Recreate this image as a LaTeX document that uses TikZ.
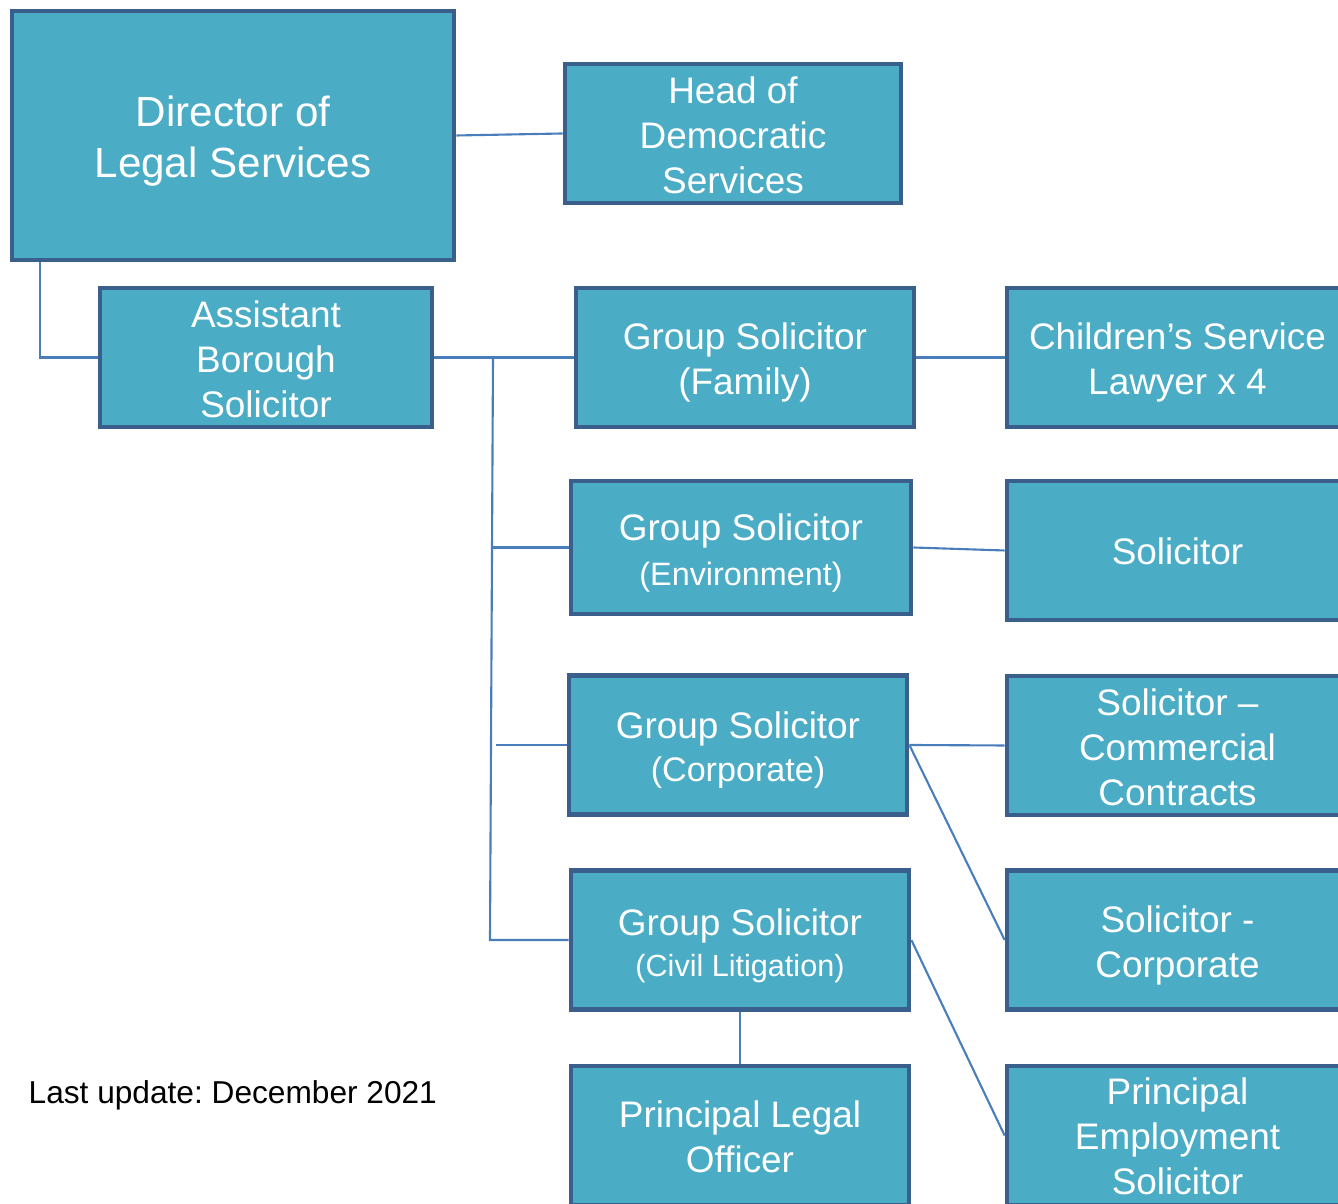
\documentclass[tikz,border=0pt]{standalone}
\usepackage{fontspec}
\setmainfont{Liberation Sans}
\frenchspacing
\definecolor{boxfill}{HTML}{4BACC6}
\definecolor{boxline}{HTML}{3A5F8C}
\definecolor{linkline}{HTML}{4A7EBB}

\begin{document}
\begin{tikzpicture}[x=0.01cm, y=-0.01cm,
    post/.style={draw=boxline, fill=boxfill, line width=1.3pt, inner sep=0pt},
    midpost/.style={post, minimum width=3.38cm, minimum height=1.39cm},
    sidepost/.style={post, minimum width=3.41cm, minimum height=1.39cm},
    caption/.style={text=white, align=center, inner sep=0pt, font=\fontsize{10.5}{12.8}\selectfont, yshift=-#1},
    caption/.default=0.05cm,
    link/.style={draw=linkline, line width=0.6pt}]
            \useasboundingbox (0,0) rectangle (1338,1204);
            \clip (0,0) rectangle (1338,1204);
            % Top
            \node[post, minimum width=4.42cm, minimum height=2.49cm, label={[caption=0.06cm, font=\fontsize{12}{14.5}\selectfont]center:Director of\\Legal Services}] (dir) at (233,135.5) {};
            \node[post, minimum width=3.36cm, minimum height=1.39cm, label={[caption=0.02cm]center:Head of\\Democratic\\Services}] (head) at (733,133.5) {};
            \node[post, minimum width=3.32cm, minimum height=1.39cm, label={[caption=0.015cm]center:Assistant\\Borough\\Solicitor}] (asst) at (266,357.5) {};
            % Group solicitors
            \node[midpost, label={[caption]center:Group Solicitor\\(Family)}] (family) at (745,357.5) {};
            \node[midpost, minimum width=3.40cm, minimum height=1.33cm, label={[caption]center:Group Solicitor\\[0pt]{\fontsize{9.2}{11}\selectfont (Environment)}}] (env) at (741,547.5) {};
            \node[midpost, label={[caption]center:Group Solicitor\\[-0.4pt]{\fontsize{9.7}{11.5}\selectfont (Corporate)}}] (corp) at (738,745) {};
            \node[midpost, label={[caption=0.06cm]center:Group Solicitor\\[-1.2pt]{\fontsize{8.7}{10.5}\selectfont (Civil Litigation)}}] (civil) at (740,940) {};
            \node[midpost, label={[caption=0.01cm]center:Principal Legal\\Officer}] (plo) at (740,1135.5) {};
            % Right column
            \node[sidepost, label={[caption]center:Children’s Service\\Lawyer x 4}] (children) at (1177.5,357.5) {};
            \node[sidepost, label={[caption=0.01cm]center:Solicitor}] (sol) at (1177.5,550.5) {};
            \node[sidepost, label={[caption=0.02cm]center:Solicitor –\\Commercial\\Contracts}] (comm) at (1177.5,745.5) {};
            \node[sidepost, label={[caption]center:Solicitor -\\Corporate}] (solcorp) at (1177.5,940) {};
            \node[sidepost, label={[caption=0.01cm]center:Principal\\Employment\\Solicitor}] (pes) at (1177.5,1135.5) {};
            \node[anchor=west, inner sep=0pt, font=\fontsize{9}{11}\selectfont] (upd) at (28,1095) {Last update: December 2021};
            % Connexions
            \coordinate (trunk top) at (493,357.5);
            \coordinate (trunk bot) at (490,940);
            \coordinate (env in) at (491,547.5);
            \coordinate (corp in) at (496,745);
            \draw[link] (dir.east) -- (head.west);
            \draw[link] ([xshift=0.30cm]dir.south west) |- (asst.west);
            \draw[link] (asst.east) -- (family.west);
            \draw[link] (trunk top) -- (trunk bot) -- (civil.west);
            \draw[link] (env in) -- (env.west);
            \draw[link] (corp in) -- (corp.west);
            \draw[link] (family.east) -- (children.west);
            \draw[link] (env.east) -- (sol.west);
            \draw[link] (corp.east) -- (comm.west);
            \draw[link] (corp.east) -- (solcorp.west);
            \draw[link] (civil.east) -- (pes.west);
            \draw[link] (civil.south) -- (plo.north);
\end{tikzpicture}
\end{document}
